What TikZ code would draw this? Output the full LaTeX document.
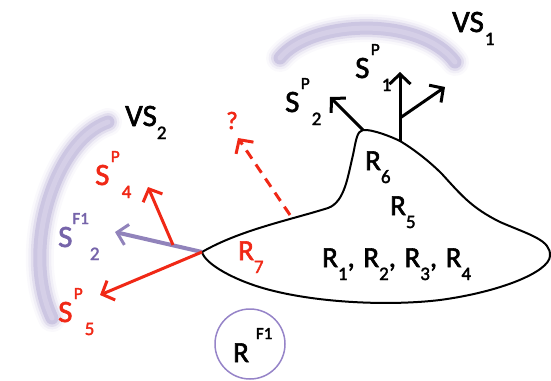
\documentclass[tikz,border=0pt]{standalone}
\usepackage{fontspec}
\setmainfont{Carlito}
\newfontfamily\semib{Carlito}[FakeBold=2]
\usetikzlibrary{arrows.meta}
\definecolor{cred}{RGB}{240,40,22}
\definecolor{cpurp}{RGB}{118,100,170}
\definecolor{carc}{RGB}{190,182,218}
\definecolor{ccirc}{RGB}{150,132,200}
\newcommand\mysup[1]{\raisebox{23pt}{\fontsize{17}{17}\selectfont #1}}
\newcommand\mysub[1]{\raisebox{-13pt}{\fontsize{19}{19}\selectfont #1}}
\newcommand\mylab[3]{#1\kern1.5pt\mysup{#2}\kern2pt\mysub{#3}}
\tikzset{
  lab/.style={inner sep=0pt, anchor=base west, font=\semib\fontsize{31}{34}\selectfont},
  rlab/.style={inner sep=0pt, anchor=base west, font=\semib\fontsize{29}{32}\selectfont},
  arr/.style={line width=3pt, -{Straight Barb[length=10pt,width=21pt,line width=3pt]}},
  glow0/.style={carc, line width=28pt, opacity=.08, line cap=round},
  glow1/.style={carc, line width=23pt, opacity=.15, line cap=round},
  glow2/.style={carc, line width=18pt, opacity=.3, line cap=round},
  glow3/.style={carc, line width=13pt, opacity=.6, line cap=round},
  glow4/.style={carc!55!white, line width=5pt, opacity=.6, line cap=round},
}
\begin{document}
\begin{tikzpicture}[x=1pt,y=-1pt]
\useasboundingbox (0,0) rectangle (551,380);
% glowing arcs
\foreach \s in {glow0,glow1,glow2,glow3,glow4}{
  \draw[\s] (280,58) .. controls (310,20) and (420,15) .. (455,62);
  \draw[\s] (108,122) .. controls (55,140) and (20,250) .. (52,318);
}
% blob
\coordinate (tip) at (202,252);
\coordinate (peak) at (363,130);
\coordinate (vb) at (400,141);
\coordinate (ds) at (290,215);
\draw[line width=2pt, line join=round]
  (tip) .. controls (240,230) and (290,220) .. (328,208)
  .. controls (345,202) and (348,175) .. (353,155)
  .. controls (356,140) and (357,131) .. (peak)
  .. controls (372,129) and (392,137) .. (vb)
  .. controls (415,150) and (430,162) .. (442,174)
  .. controls (462,196) and (472,208) .. (500,222)
  .. controls (530,235) and (551,240) .. (550,256)
  .. controls (549,272) and (500,292) .. (440,300)
  .. controls (390,306) and (320,303) .. (270,290)
  .. controls (235,281) and (205,264) .. (tip) -- cycle;
% labels
\node[lab] (vs1) at (452,32) {VS\kern1pt\mysub{1}};
\node[lab] (vs2) at (125,126) {VS\mysub{2}};
\node[lab] (s1) at (355,78) {\mylab{S}{P}{1}};
\node[lab] (s2) at (285,112) {\mylab{S}{P}{2}};
\node[lab, text=cred] (s4) at (95,185) {\mylab{S}{P}{4}};
\node[lab, text=cpurp] (s2f) at (58,247) {S\mysup{F1}\kern1pt\mysub{2}};
\node[lab, text=cred] (s5) at (58,322) {\mylab{S}{P}{5}};
\node[inner sep=0pt, anchor=base west, text=cred, font=\semib\fontsize{25}{28}\selectfont] (q) at (226,129) {?};
\node[rlab] (r6) at (365,170) {R\mysub{6}};
\node[rlab] (r5) at (390,215) {R\mysub{5}};
\node[rlab] (r14) at (322,267) {R\mysub{1}, \kern2pt R\mysub{2}, \kern2pt R\mysub{3}, \kern2pt R\mysub{4}};
\node[rlab, text=cred] (r7) at (238,260) {R\mysub{7}};
\node[draw=ccirc, line width=1.5pt, circle, minimum size=70pt, inner sep=0pt] (circ) at (250,344) {};
\node[rlab] (rf) at (233,362) {R\kern7pt\mysup{F1}};
% arrow end points
\coordinate (e2) at (330,97);
\coordinate (e1) at (400,72);
\coordinate (br) at (400,118);
\coordinate (e3) at (445,87);
\coordinate (ep) at (115,232);
\coordinate (e5) at (100,295);
\coordinate (s4a) at (173,245);
\coordinate (e4) at (148,187);
\coordinate (eq) at (238,138);
% arrows
\draw[arr] (peak) -- (e2);
\draw[arr] (vb) -- (e1);
\draw[arr] (br) -- (e3);
\draw[arr, cpurp!80!white, line width=4pt] (tip) -- (ep);
\draw[arr, cred] (tip) -- (e5);
\draw[arr, cred] (s4a) -- (e4);
\draw[arr, cred, dash pattern=on 10pt off 7pt] (ds) -- (eq);
\end{tikzpicture}
\end{document}
